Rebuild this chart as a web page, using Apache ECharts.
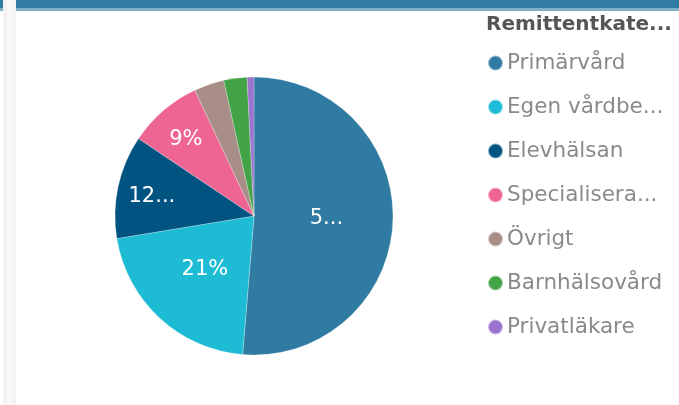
<!DOCTYPE html>
<html>
<head>
<meta charset="utf-8">
<script src="https://cdn.jsdelivr.net/npm/echarts@6/dist/echarts.min.js"></script>
<style>
  html, body { margin: 0; padding: 0; background: #fff; }
  #chart { width: 679px; height: 405px; }
</style>
</head>
<body>
<div id="chart"></div>
<script>
// Remittentkategori breakdown (roughly per mille)
const categories = ['Primärvård', 'Egen vårdbe...', 'Elevhälsan', 'Specialisera...', 'Övrigt', 'Barnhälsovård', 'Privatläkare'];
const values = [513, 211, 120, 86, 35, 27, 8];
const sliceLabels = ['5...', '21%', '12...', '9%', '', '', ''];
const colors = ['#2f7ba1', '#1ebbd4', '#015382', '#ee6492', '#a88e86', '#42a447', '#9b74d0'];

const R = 139;
const total = values.reduce((a, b) => a + b, 0);
// smaller slices get their label pushed further out (like the source tool does)
const labelPush = [0, 0, 32, 32, 0, 0, 0];

const chart = echarts.init(document.getElementById('chart'));

function midAngle(idx) {
    let before = 0;
    for (let i = 0; i < idx; i++) before += values[i];
    return (before + values[idx] / 2) / total * Math.PI * 2; // clockwise from 12 o'clock
}

chart.setOption({
    animation: false,
    color: colors,
    graphic: [
        // top header bar + left gutter strip
        { type: 'rect', left: 0, top: 0, shape: { width: 679, height: 8 }, style: { fill: '#317ca4' }, silent: true },
        { type: 'rect', left: 0, top: 8, shape: { width: 679, height: 3 }, style: { fill: '#7fb0c8' }, silent: true },
        { type: 'rect', left: 3, top: 0, shape: { width: 13, height: 405 }, style: { fill: '#f3f3f3' }, silent: true },
        { type: 'rect', left: 7, top: 0, shape: { width: 5, height: 405 }, style: { fill: '#f8f8f8' }, silent: true }
    ],
    title: {
        text: 'Remittentkate...',
        left: 486,
        top: 15,
        padding: 0,
        textStyle: { fontFamily: 'DejaVu Sans', fontSize: 20, fontWeight: 'bold', color: '#555' }
    },
    legend: {
        orient: 'vertical',
        left: 487,
        top: 52,
        padding: 0,
        icon: 'circle',
        itemWidth: 15,
        itemHeight: 15,
        itemGap: 22,
        data: categories,
        textStyle: { fontFamily: 'DejaVu Sans', fontSize: 21.5, lineHeight: 20, color: '#8a8a8a', padding: [0, 0, 0, -1] }
    },
    series: [{
        type: 'pie',
        center: [254, 216],
        radius: R,
        startAngle: 90,
        clockwise: true,
        avoidLabelOverlap: false,
        data: categories.map((c, i) => ({ name: c, value: values[i] })),
        itemStyle: { borderColor: 'rgba(255,255,255,0.5)', borderWidth: 0.5 },
        label: {
            show: true,
            position: 'inside',
            formatter: p => sliceLabels[p.dataIndex],
            color: '#fff',
            fontFamily: 'DejaVu Sans',
            fontSize: 21
        },
        labelLayout: p => {
            const push = labelPush[p.dataIndex];
            if (!push) return {};
            const a = midAngle(p.dataIndex);
            return { dx: Math.sin(a) * push, dy: -Math.cos(a) * push + 3 };
        },
        labelLine: { show: false },
        emphasis: { disabled: true }
    }]
});
</script>
</body>
</html>
